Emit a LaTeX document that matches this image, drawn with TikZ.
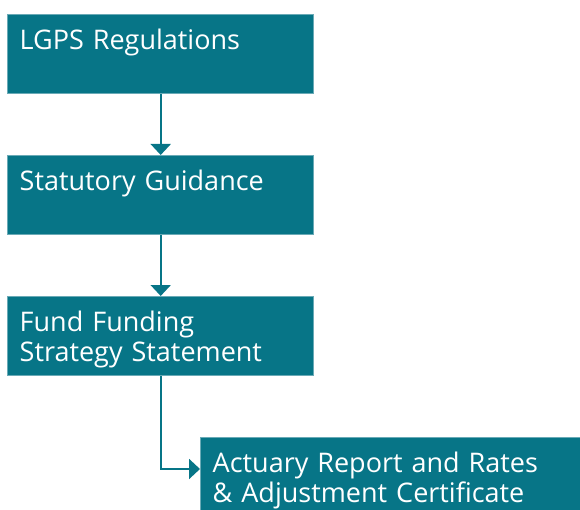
\documentclass[tikz,border=0pt]{standalone}
\usepackage{fontspec}
\setmainfont{Open Sans}
\usetikzlibrary{arrows.meta}
\definecolor{lgpsteal}{HTML}{077587}
\definecolor{lgpsedge}{HTML}{6AAAB6}
\tikzset{
  stage/.style={draw=lgpsedge, line width=1.4pt, fill=lgpsteal, text=white,
    anchor=north west, minimum width=306pt, text width=282pt, align=left,
    inner xsep=12pt, inner ysep=7pt, text height=28pt, text depth=37pt,
    font=\fontsize{27}{30}\selectfont},
  flow/.style={draw=lgpsteal, line width=2pt, -{Triangle[width=20pt,length=11pt]}}
}
\begin{document}
\begin{tikzpicture}[x=1pt, y=-1pt]
\useasboundingbox (0,0) rectangle (580,510);
\node[stage] (regs) at (7,14) {LGPS Regulations};
\node[stage] (guide) at (7,155) {Statutory Guidance};
\node[stage] (ffss) at (7,296) {Fund Funding\\Strategy Statement};
\node[stage, minimum width=400pt, text width=376pt, inner xsep=11pt] (actuary) at (200,437) {Actuary Report and Rates\\\&~Adjustment Certificate};
\draw[flow] (regs.south) -- (guide.north);
\draw[flow] (guide.south) -- (ffss.north);
\draw[flow] (ffss.south) |- ([yshift=-32pt]actuary.north west);
\end{tikzpicture}
\end{document}
